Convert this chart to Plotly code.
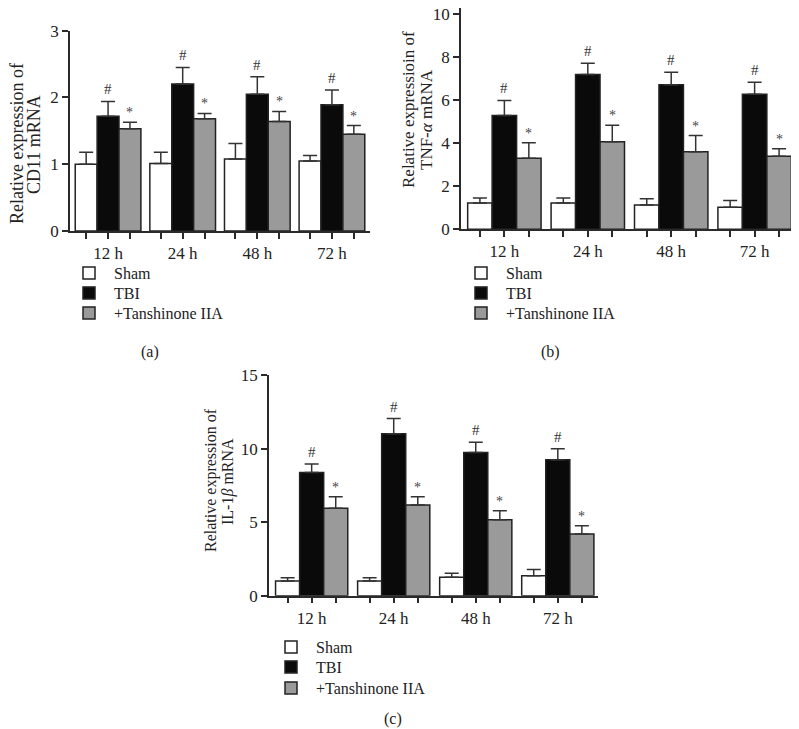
import plotly.graph_objects as go

# page has an 8px body margin; figure sized to fit the 799x729 window
OFF = 8
W, H = 799 - OFF, 729 - OFF

# ---------------- data ----------------
times = ["12 h", "24 h", "48 h", "72 h"]
groups = ["Sham", "TBI", "+Tanshinone IIA"]

cd11_sham = [1.00, 1.01, 1.08, 1.05]
cd11_sham_err = [1.18, 1.18, 1.31, 1.13]
cd11_tbi = [1.72, 2.20, 2.05, 1.89]
cd11_tbi_err = [1.94, 2.45, 2.31, 2.11]
cd11_tan = [1.53, 1.68, 1.64, 1.45]
cd11_tan_err = [1.63, 1.76, 1.79, 1.58]

tnf_sham = [1.22, 1.22, 1.13, 1.03]
tnf_sham_err = [1.46, 1.46, 1.42, 1.34]
tnf_tbi = [5.30, 7.20, 6.73, 6.28]
tnf_tbi_err = [6.00, 7.73, 7.31, 6.84]
tnf_tan = [3.31, 4.07, 3.61, 3.40]
tnf_tan_err = [4.03, 4.84, 4.36, 3.75]

il1b_sham = [1.00, 1.00, 1.25, 1.35]
il1b_sham_err = [1.22, 1.22, 1.52, 1.78]
il1b_tbi = [8.38, 11.00, 9.73, 9.24]
il1b_tbi_err = [8.95, 12.04, 10.43, 9.98]
il1b_tan = [5.95, 6.16, 5.17, 4.19]
il1b_tan_err = [6.73, 6.73, 5.77, 4.76]

tbi_marks = ["#", "#", "#", "#"]
tan_marks = ["*", "*", "*", "*"]

yticks_a = [0, 1, 2, 3]
yticks_b = [0, 2, 4, 6, 8, 10]
yticks_c = [0, 5, 10, 15]

# ---------------- style ----------------
FONT = "Liberation Serif"
fills = ["#ffffff", "#0a0a0a", "#9a9a9a"]
EDGE = "#222222"
AX = "#2a2a2a"
TXT = "#222222"
BARGAP = 0.12
NB = 3
bw = (1 - BARGAP) / NB
offsets = [-bw, 0.0, bw]


def clamp(v):
    return max(0.0, min(1.0, v))


def px_x(p):
    return (p - OFF) / W


def px_y(p):
    return 1 - (p - OFF) / H


panels = [
    dict(name="a", sham=(cd11_sham, cd11_sham_err), tbi=(cd11_tbi, cd11_tbi_err), tan=(cd11_tan, cd11_tan_err),
         xdom=(70, 370), ydom=(30.7, 231), xr=[-0.51, 3.51], yr=[0, 3], yt=yticks_a,
         title=["Relative expression of", "CD11 mRNA"], tx=(17, 34), ty=(144, 144), tsize=18,
         legx=64, legy=[273, 293, 313], lab=(150, 352)),
    dict(name="b", sham=(tnf_sham, tnf_sham_err), tbi=(tnf_tbi, tnf_tbi_err), tan=(tnf_tan, tnf_tan_err),
         xdom=(461, 798), ydom=(6, 229.3), xr=[-0.52, 3.52], yr=[0, 10.3], yt=yticks_b,
         title=["Relative expressioin of", "TNF-<i>α</i> mRNA"], tx=(409, 427), ty=(110, 120), tsize=17,
         legx=456, legy=[273, 293, 313], lab=(550, 352)),
    dict(name="c", sham=(il1b_sham, il1b_sham_err), tbi=(il1b_tbi, il1b_tbi_err), tan=(il1b_tan, il1b_tan_err),
         xdom=(269, 598), ydom=(375, 595.7), xr=[-0.52, 3.49], yr=[0, 15], yt=yticks_c,
         title=["Relative expression of", "IL-1<i>β</i> mRNA"], tx=(211, 228), ty=(480, 482), tsize=16,
         legx=266, legy=[647, 667, 688], lab=(393, 719)),
]

fig = go.Figure()
annotations = []
layout = {}

for i, p in enumerate(panels):
    k = "" if i == 0 else str(i + 1)
    xa, ya = "x" + k, "y" + k
    xs = list(range(len(times)))
    for j, key in enumerate(["sham", "tbi", "tan"]):
        n = i * 3 + j + 1
        leg = "legend" if n == 1 else "legend%d" % n
        vals, errs = p[key]
        fig.add_trace(go.Bar(
            x=xs, y=vals, name=groups[j], xaxis=xa, yaxis=ya, legend=leg,
            marker=dict(color=fills[j], line=dict(color=EDGE, width=1.5)),
            error_y=dict(type="data", symmetric=False,
                         array=[e - v for e, v in zip(errs, vals)],
                         arrayminus=[0] * len(vals),
                         color="#333333", thickness=1.5, width=7),
            showlegend=True,
        ))
        layout[leg] = dict(x=px_x(p["legx"]), y=px_y(p["legy"][j]), xanchor="left", yanchor="middle",
                           bgcolor="rgba(0,0,0,0)", font=dict(family=FONT, size=16, color=TXT),
                           itemclick=False, borderwidth=0, itemwidth=40)
    # significance marks
    for g in range(len(times)):
        annotations.append(dict(x=g + offsets[1], y=p["tbi"][1][g], xref=xa, yref=ya, text=tbi_marks[g],
                                showarrow=False, yanchor="bottom", yshift=2,
                                font=dict(family=FONT, size=15, color="#333333")))
        annotations.append(dict(x=g + offsets[2], y=p["tan"][1][g], xref=xa, yref=ya, text=tan_marks[g],
                                showarrow=False, yanchor="bottom", yshift=0,
                                font=dict(family=FONT, size=14, color="#444444")))
    tickvals, ticktext = [], []
    for g, t in enumerate(times):
        for o in offsets:
            tickvals.append(g + o)
            ticktext.append(t if o == 0 else "")
    axis_common = dict(showline=True, linecolor=AX, linewidth=1.5, ticks="outside", ticklen=6,
                       tickwidth=1.5, tickcolor=AX, showgrid=False, zeroline=False, automargin=False,
                       ticklabeloverflow="allow")
    layout["xaxis" + k] = dict(axis_common, domain=[clamp(px_x(p["xdom"][0])), clamp(px_x(p["xdom"][1]))],
                               range=p["xr"], tickvals=tickvals, ticktext=ticktext, anchor=ya,
                               tickfont=dict(family=FONT, size=17, color=TXT))
    layout["yaxis" + k] = dict(axis_common, domain=[clamp(px_y(p["ydom"][1])), clamp(px_y(p["ydom"][0]))],
                               range=p["yr"], tickvals=p["yt"], anchor=xa,
                               tickfont=dict(family=FONT, size=17, color=TXT))
    # axis titles (two lines)
    for line, xpos, ypos in zip(p["title"], p["tx"], p["ty"]):
        annotations.append(dict(x=px_x(xpos), y=px_y(ypos), xref="paper", yref="paper", text=line,
                                textangle=-90, showarrow=False, xanchor="center", yanchor="middle",
                                font=dict(family=FONT, size=p["tsize"], color=TXT)))
    annotations.append(dict(x=px_x(p["lab"][0]), y=px_y(p["lab"][1]), xref="paper", yref="paper",
                            text="(" + p["name"] + ")", showarrow=False, xanchor="center", yanchor="middle",
                            font=dict(family=FONT, size=16, color=TXT)))

fig.update_layout(
    width=W, height=H, margin=dict(l=0, r=0, t=0, b=0, autoexpand=False),
    paper_bgcolor="white", plot_bgcolor="white",
    barmode="group", bargap=BARGAP, bargroupgap=0,
    annotations=annotations,
    **layout,
)

fig.write_html("out.html")
